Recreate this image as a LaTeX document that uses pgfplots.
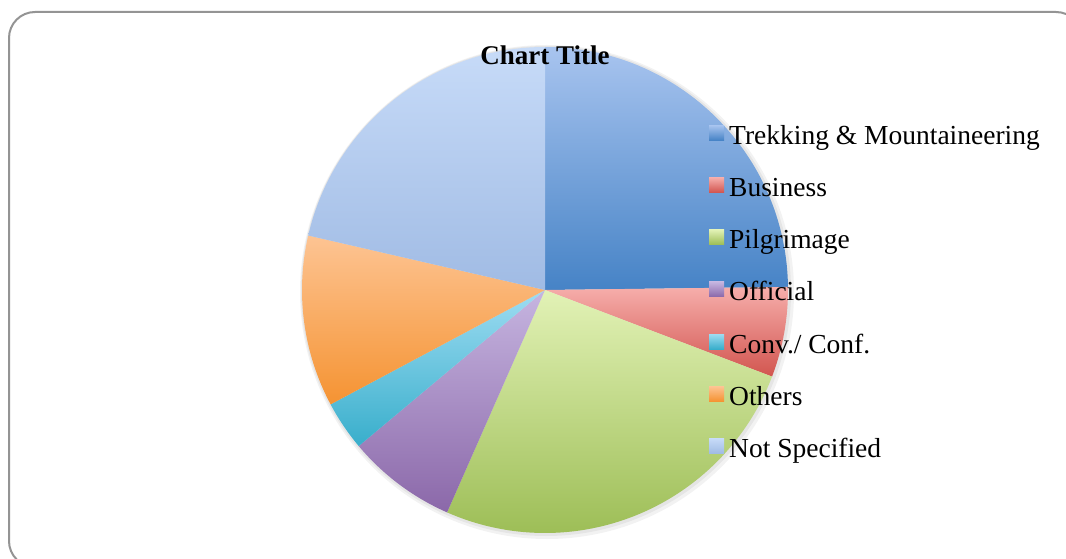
\documentclass[border=0pt]{standalone}
\usepackage{pgfplots}
\pgfplotsset{compat=1.18}
\usepackage{pgfplotstable}
\usepackage{fontspec}
\setmainfont{Liberation Serif}

\definecolor{pl0}{HTML}{A8C4EF}\definecolor{pd0}{HTML}{4683C6}
\definecolor{pl1}{HTML}{F6AEAB}\definecolor{pd1}{HTML}{D2554F}
\definecolor{pl2}{HTML}{E2F2B6}\definecolor{pd2}{HTML}{9CBD55}
\definecolor{pl3}{HTML}{C6B5E0}\definecolor{pd3}{HTML}{8B68A9}
\definecolor{pl4}{HTML}{9EDCF2}\definecolor{pd4}{HTML}{38AECB}
\definecolor{pl5}{HTML}{FDC493}\definecolor{pd5}{HTML}{F59332}
\definecolor{pl6}{HTML}{C7DBF8}\definecolor{pd6}{HTML}{A0BBE4}

\pgfplotstableread{
idx value
0 24.8
1 6.0
2 25.8
3 7.3
4 3.3
5 11.4
6 21.4
}\piedata

\begin{document}
\begin{tikzpicture}
\path[use as bounding box] (0pt,0pt) rectangle (1066pt,558pt);
\clip (0pt,0pt) rectangle (1066pt,558pt);
\fill[white] (0pt,0pt) rectangle (1066pt,558pt);
\draw[color=black!42, line width=2pt, rounded corners=26pt] (9pt,-9pt) rectangle (1082pt,546pt);

\xdef\cum{0}
\foreach \i in {0,...,6}{%
  \pgfplotstablegetelem{\i}{value}\of\piedata
  \pgfmathsetmacro\sa{90-3.6*\cum}%
  \pgfmathsetmacro\newcum{\cum+\pgfplotsretval}%
  \pgfmathsetmacro\ea{90-3.6*\newcum}%
  \expandafter\xdef\csname pieS\i\endcsname{\sa}%
  \expandafter\xdef\csname pieE\i\endcsname{\ea}%
  \xdef\cum{\newcum}%
}

\begin{axis}[
  at={(0pt,0pt)}, anchor=south west,
  x=1pt, y=1pt,
  xmin=0, xmax=1066, ymin=0, ymax=558,
  hide axis, clip=false,
  title={Chart Title},
  title style={at={(545/1066,488/558)}, anchor=base, inner sep=0pt,
    font=\bfseries\fontsize{27}{32}\selectfont},
  legend style={at={(709/1066,433/558)}, anchor=north west, draw=none, fill=none,
    inner sep=0pt, row sep=26.2pt, column sep=0pt,
    font=\fontsize{27.5}{33}\selectfont,
    nodes={inner sep=0pt, text height=19pt, text depth=7pt, anchor=base west}},
  legend cell align=left,
]
\fill[black, opacity=0.05] (axis cs:547,266) circle[radius=247pt];
\fill[black, opacity=0.05] (axis cs:546,267) circle[radius=245pt];
\pgfplotsinvokeforeach{0,...,6}{%
  \shade[top color=pl#1, bottom color=pd#1, draw=none]
    (axis cs:545,268) -- ++(\csname pieS#1\endcsname:243pt)
    arc[start angle=\csname pieS#1\endcsname, end angle=\csname pieE#1\endcsname, radius=243pt] -- cycle;
}
\addlegendimage{legend image code/.code={\shade[draw=none,top color=pl0,bottom color=pd0] (0pt,4pt) rectangle (15pt,19pt); \path[draw=none] (20pt,0pt);}}
\addlegendentry{Trekking \& Mountaineering}
\addlegendimage{legend image code/.code={\shade[draw=none,top color=pl1,bottom color=pd1] (0pt,4pt) rectangle (15pt,19pt); \path[draw=none] (20pt,0pt);}}
\addlegendentry{Business}
\addlegendimage{legend image code/.code={\shade[draw=none,top color=pl2,bottom color=pd2] (0pt,4pt) rectangle (15pt,19pt); \path[draw=none] (20pt,0pt);}}
\addlegendentry{Pilgrimage}
\addlegendimage{legend image code/.code={\shade[draw=none,top color=pl3,bottom color=pd3] (0pt,4pt) rectangle (15pt,19pt); \path[draw=none] (20pt,0pt);}}
\addlegendentry{Official}
\addlegendimage{legend image code/.code={\shade[draw=none,top color=pl4,bottom color=pd4] (0pt,4pt) rectangle (15pt,19pt); \path[draw=none] (20pt,0pt);}}
\addlegendentry{Conv./ Conf.}
\addlegendimage{legend image code/.code={\shade[draw=none,top color=pl5,bottom color=pd5] (0pt,4pt) rectangle (15pt,19pt); \path[draw=none] (20pt,0pt);}}
\addlegendentry{Others}
\addlegendimage{legend image code/.code={\shade[draw=none,top color=pl6,bottom color=pd6] (0pt,4pt) rectangle (15pt,19pt); \path[draw=none] (20pt,0pt);}}
\addlegendentry{Not Specified}
\end{axis}
\end{tikzpicture}
\end{document}
